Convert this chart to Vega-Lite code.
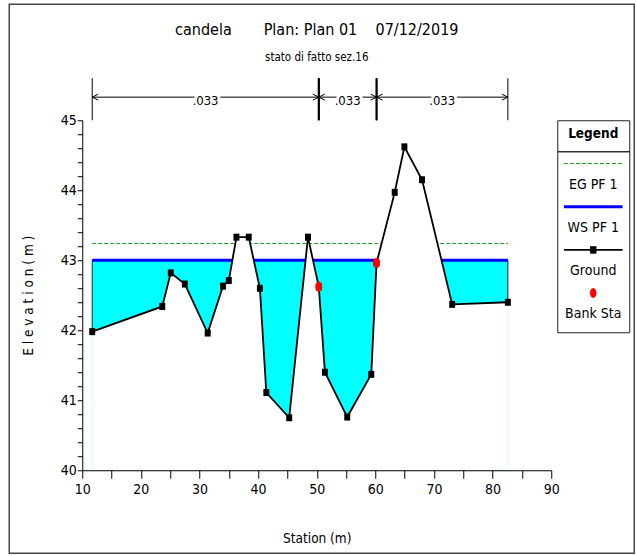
{
  "$schema": "https://vega.github.io/schema/vega-lite/v6.json",
  "description": "HEC-RAS cross section: candela, Plan 01, stato di fatto sez.16",
  "background": "white",
  "padding": {"left": 8.25, "top": 3.25, "right": 2.25, "bottom": 2.25},
  "autosize": {"type": "pad"},
  "bounds": "flush",
  "spacing": 6,
  "config": {
    "font": "DejaVu Sans Condensed, Liberation Sans, sans-serif",
    "mark": {"font": "DejaVu Sans Condensed, Liberation Sans, sans-serif"},
    "view": {"stroke": null},
    "axis": {
      "grid": false,
      "domain": true,
      "ticks": true,
      "domainColor": "black",
      "tickColor": "black",
      "labelColor": "black",
      "titleColor": "black",
      "titleFontWeight": "normal",
      "labelFontSize": 14,
      "titleFontSize": 13.5
    },
    "axisX": {"domain": true, "ticks": true, "domainColor": "black", "tickColor": "black"},
    "axisY": {"domain": true, "ticks": true, "domainColor": "black", "tickColor": "black"},
    "axisQuantitative": {"domain": true, "ticks": true, "domainColor": "black", "tickColor": "black"}
  },
  "datasets": {
    "ground": [
      {"station": 11.7, "elevation": 41.98},
      {"station": 23.65, "elevation": 42.34},
      {"station": 25.1, "elevation": 42.82},
      {"station": 27.5, "elevation": 42.66},
      {"station": 31.4, "elevation": 41.96},
      {"station": 34.0, "elevation": 42.63},
      {"station": 35.0, "elevation": 42.71},
      {"station": 36.3, "elevation": 43.33},
      {"station": 38.4, "elevation": 43.33},
      {"station": 40.3, "elevation": 42.6},
      {"station": 41.4, "elevation": 41.11},
      {"station": 45.3, "elevation": 40.75},
      {"station": 48.5, "elevation": 43.33},
      {"station": 50.35, "elevation": 42.62},
      {"station": 51.4, "elevation": 41.4},
      {"station": 55.2, "elevation": 40.76},
      {"station": 59.3, "elevation": 41.37},
      {"station": 60.2, "elevation": 42.96},
      {"station": 63.3, "elevation": 43.97},
      {"station": 64.95, "elevation": 44.62},
      {"station": 67.96, "elevation": 44.15},
      {"station": 73.1, "elevation": 42.37},
      {"station": 82.6, "elevation": 42.4}
    ],
    "banks": [
      {"bank": "left", "station": 50.35, "elevation": 42.62},
      {"bank": "right", "station": 60.2, "elevation": 42.96}
    ],
    "profile": [
      {"station": 11.7, "ws": 43.0, "eg": 43.24, "bed": 41.98},
      {"station": 82.6, "ws": 43.0, "eg": 43.24, "bed": 42.4}
    ],
    "manning": [
      {"zone": "LOB", "from": 11.7, "to": 50.35, "n": ".033"},
      {"zone": "Channel", "from": 50.35, "to": 60.2, "n": ".033"},
      {"zone": "ROB", "from": 60.2, "to": 82.6, "n": ".033"}
    ],
    "legendEntries": [
      {"entry": "EG PF 1"},
      {"entry": "WS PF 1"},
      {"entry": "Ground"},
      {"entry": "Bank Sta"}
    ]
  },
  "hconcat": [
    {
      "width": 469,
      "height": 350,
      "view": {"stroke": null},
      "title": {
        "text": "candela\u00a0\u00a0\u00a0\u00a0\u00a0\u00a0\u00a0Plan: Plan 01\u00a0\u00a0\u00a0\u00a007/12/2019",
        "subtitle": "stato di fatto sez.16",
        "anchor": "middle",
        "frame": "group",
        "fontSize": 16,
        "fontWeight": "normal",
        "color": "black",
        "subtitleFontSize": 11.5,
        "subtitleColor": "black",
        "subtitlePadding": 14,
        "offset": -60
      },
      "layer": [
        {
          "data": {"name": "profile"},
          "mark": {"type": "area", "fill": "#00ffff"},
          "encoding": {
            "x": {"field": "station", "type": "quantitative"},
            "y": {"field": "ws", "type": "quantitative"},
            "y2": {"datum": 40}
          }
        },
        {
          "data": {"name": "profile"},
          "mark": {"type": "rule", "color": "#222", "strokeWidth": 1},
          "encoding": {
            "x": {"field": "station", "type": "quantitative"},
            "y": {"field": "ws", "type": "quantitative"},
            "y2": {"field": "bed"}
          }
        },
        {
          "data": {"name": "profile"},
          "mark": {"type": "line", "stroke": "#0000ff", "strokeWidth": 3},
          "encoding": {
            "x": {"field": "station", "type": "quantitative"},
            "y": {"field": "ws", "type": "quantitative"}
          }
        },
        {
          "data": {"name": "profile"},
          "mark": {"type": "line", "stroke": "#1a9a1a", "strokeWidth": 1, "strokeDash": [4, 2]},
          "encoding": {
            "x": {"field": "station", "type": "quantitative"},
            "y": {"field": "eg", "type": "quantitative"}
          }
        },
        {
          "data": {"name": "ground"},
          "mark": {"type": "area", "fill": "white"},
          "encoding": {
            "x": {"field": "station", "type": "quantitative"},
            "y": {"field": "elevation", "type": "quantitative"},
            "y2": {"datum": 40}
          }
        },
        {
          "data": {"name": "ground"},
          "mark": {"type": "line", "stroke": "black", "strokeWidth": 1.8},
          "encoding": {
            "x": {
              "field": "station",
              "type": "quantitative",
              "scale": {"domain": [10, 90], "nice": false, "zero": false},
              "axis": {
                "title": "Station (m)",
                "values": [10, 15, 20, 25, 30, 35, 40, 45, 50, 55, 60, 65, 70, 75, 80, 85, 90],
                "tickCount": 100,
                "labelExpr": "datum.value % 10 === 0 ? format(datum.value, 'd') : ''",
                "labelFlush": false,
                "labelOverlap": false,
                "domain": true,
                "ticks": true,
                "domainColor": "black",
                "tickColor": "black",
                "tickSize": 8,
                "labelPadding": 4,
                "titlePadding": 35,
                "zindex": 1,
                "encode": {
                  "domain": {"update": {"stroke": {"value": "black"}, "strokeOpacity": {"value": 1}, "strokeWidth": {"value": 1}}},
                  "ticks": {"update": {"stroke": {"value": "black"}, "strokeOpacity": {"value": 1}, "strokeWidth": {"value": 1}, "y2": {"signal": "datum.value % 10 === 0 ? 8 : 6"}}},
                  "labels": {"update": {"fontSize": {"signal": "datum.value % 10 === 0 ? 14 : 0"}}}
                }
              }
            },
            "y": {
              "field": "elevation",
              "type": "quantitative",
              "scale": {"domain": [40, 45], "nice": false, "zero": false},
              "axis": {
                "title": "E l e v a t i o n   ( m )",
                "values": [40, 40.2, 40.4, 40.6, 40.8, 41, 41.2, 41.4, 41.6, 41.8, 42, 42.2, 42.4, 42.6, 42.8, 43, 43.2, 43.4, 43.6, 43.8, 44, 44.2, 44.4, 44.6, 44.8, 45],
                "tickCount": 100,
                "labelExpr": "abs(datum.value - round(datum.value)) < 0.001 ? format(datum.value, 'd') : ''",
                "labelOverlap": false,
                "domain": true,
                "ticks": true,
                "domainColor": "black",
                "tickColor": "black",
                "tickSize": 5,
                "labelPadding": 1,
                "titlePadding": 25,
                "zindex": 1,
                "encode": {
                  "domain": {"update": {"stroke": {"value": "black"}, "strokeOpacity": {"value": 1}, "strokeWidth": {"value": 1}}},
                  "ticks": {"update": {"stroke": {"value": "black"}, "strokeOpacity": {"value": 1}, "strokeWidth": {"value": 1}, "x2": {"signal": "abs(datum.value - round(datum.value)) < 0.001 ? -5 : -2"}}},
                  "labels": {"update": {"fontSize": {"signal": "abs(datum.value - round(datum.value)) < 0.001 ? 14 : 0"}}}
                }
              }
            }
          }
        },
        {
          "data": {"name": "ground"},
          "mark": {"type": "point", "filled": true, "color": "black", "opacity": 1, "shape": "M-0.85,-1H0.85V1H-0.85Z", "size": 49},
          "encoding": {
            "x": {"field": "station", "type": "quantitative"},
            "y": {"field": "elevation", "type": "quantitative"}
          }
        },
        {
          "data": {"name": "banks"},
          "mark": {"type": "point", "filled": true, "color": "#ff0000", "opacity": 1, "shape": "M0,-1A0.65,1 0 1,1 0,1A0.65,1 0 1,1 0,-1Z", "size": 110},
          "encoding": {
            "x": {"field": "station", "type": "quantitative"},
            "y": {"field": "elevation", "type": "quantitative"}
          }
        },
        {
          "data": {"name": "manning"},
          "transform": [{"fold": ["from", "to"], "as": ["end", "station"]}],
          "mark": {"type": "rule", "color": "black", "strokeWidth": 1},
          "encoding": {
            "x": {"field": "station", "type": "quantitative"},
            "y": {"datum": 45, "type": "quantitative"},
            "y2": {"datum": 45.6}
          }
        },
        {
          "data": {"name": "banks"},
          "mark": {"type": "rule", "color": "black", "strokeWidth": 2.2},
          "encoding": {
            "x": {"field": "station", "type": "quantitative"},
            "y": {"datum": 45, "type": "quantitative"},
            "y2": {"datum": 45.6}
          }
        },
        {
          "data": {"name": "manning"},
          "mark": {"type": "rule", "color": "black", "strokeWidth": 1},
          "encoding": {
            "x": {"field": "from", "type": "quantitative"},
            "x2": {"field": "to"},
            "y": {"datum": 45.33, "type": "quantitative"}
          }
        },
        {
          "data": {"name": "manning"},
          "mark": {"type": "point", "filled": false, "color": "black", "opacity": 1, "strokeWidth": 1, "shape": "M2,-1L0,0L2,1", "size": 36},
          "encoding": {
            "x": {"field": "from", "type": "quantitative"},
            "y": {"datum": 45.33, "type": "quantitative"}
          }
        },
        {
          "data": {"name": "manning"},
          "mark": {"type": "point", "filled": false, "color": "black", "opacity": 1, "strokeWidth": 1, "shape": "M-2,-1L0,0L-2,1", "size": 36},
          "encoding": {
            "x": {"field": "to", "type": "quantitative"},
            "y": {"datum": 45.33, "type": "quantitative"}
          }
        },
        {
          "data": {"name": "manning"},
          "transform": [
            {"fold": ["from", "to"], "as": ["end", "station"]},
            {"aggregate": [{"op": "mean", "field": "station", "as": "mid"}], "groupby": ["zone", "n"]}
          ],
          "layer": [
            {
              "mark": {"type": "text", "fontSize": 13, "baseline": "middle", "dy": 4, "fill": "white", "stroke": "white", "strokeWidth": 6},
              "encoding": {
                "x": {"field": "mid", "type": "quantitative"},
                "y": {"datum": 45.33, "type": "quantitative"},
                "text": {"field": "n"}
              }
            },
            {
              "mark": {"type": "text", "fontSize": 13, "baseline": "middle", "dy": 4, "color": "black"},
              "encoding": {
                "x": {"field": "mid", "type": "quantitative"},
                "y": {"datum": 45.33, "type": "quantitative"},
                "text": {"field": "n"}
              }
            }
          ]
        },
        {
          "data": {"values": [{"part": "frame"}]},
          "mark": {"type": "rect", "fill": null, "fillOpacity": 0, "stroke": "#444", "strokeWidth": 1.5},
          "encoding": {
            "x": {"datum": -2.452, "type": "quantitative"},
            "x2": {"datum": 104.158},
            "y": {"datum": 46.657, "type": "quantitative"},
            "y2": {"datum": 38.814}
          }
        }
      ]
    },
    {
      "vconcat": [
        {
          "width": 72,
          "height": 31,
          "view": {"stroke": "#222", "strokeWidth": 1},
          "data": {"values": [{"heading": "Legend"}]},
          "mark": {"type": "text", "fontSize": 13.5, "fontWeight": "bold", "baseline": "middle", "dy": -2, "color": "black"},
          "encoding": {"text": {"field": "heading"}}
        },
        {
          "width": 72,
          "height": 181,
          "view": {"stroke": "#222", "strokeWidth": 1},
          "data": {"name": "legendEntries"},
          "layer": [
            {
              "mark": {"type": "text", "fontSize": 14, "baseline": "middle", "color": "black"},
              "encoding": {
                "y": {
                  "field": "entry",
                  "type": "nominal",
                  "bandPosition": 0.74,
                  "scale": {"type": "band", "domain": ["EG PF 1", "WS PF 1", "Ground", "Bank Sta"], "paddingInner": 0, "paddingOuter": 0.095, "align": 0.18},
                  "axis": null
                },
                "text": {"field": "entry"}
              }
            },
            {
              "transform": [{"filter": "datum.entry === 'EG PF 1'"}],
              "mark": {"type": "point", "shape": "M-1,0H1", "size": 3446, "filled": false, "color": "#1a9a1a", "opacity": 1, "strokeWidth": 1, "strokeDash": [4, 2]},
              "encoding": {"y": {"field": "entry", "type": "nominal", "bandPosition": 0.25}}
            },
            {
              "transform": [{"filter": "datum.entry === 'WS PF 1'"}],
              "mark": {"type": "point", "shape": "M-1,0H1", "size": 3446, "filled": false, "color": "#0000ff", "opacity": 1, "strokeWidth": 3},
              "encoding": {"y": {"field": "entry", "type": "nominal", "bandPosition": 0.25}}
            },
            {
              "transform": [{"filter": "datum.entry === 'Ground'"}],
              "mark": {"type": "point", "shape": "M-1,0H1", "size": 3446, "filled": false, "color": "black", "opacity": 1, "strokeWidth": 1.8},
              "encoding": {"y": {"field": "entry", "type": "nominal", "bandPosition": 0.25}}
            },
            {
              "transform": [{"filter": "datum.entry === 'Ground'"}],
              "mark": {"type": "point", "shape": "M-0.85,-1H0.85V1H-0.85Z", "size": 56, "filled": true, "color": "black", "opacity": 1},
              "encoding": {"y": {"field": "entry", "type": "nominal", "bandPosition": 0.25}}
            },
            {
              "transform": [{"filter": "datum.entry === 'Bank Sta'"}],
              "mark": {"type": "point", "shape": "M0,-1A0.65,1 0 1,1 0,1A0.65,1 0 1,1 0,-1Z", "size": 100, "filled": true, "color": "#ff0000", "opacity": 1},
              "encoding": {"y": {"field": "entry", "type": "nominal", "bandPosition": 0.25}}
            }
          ]
        }
      ],
      "spacing": 0,
      "bounds": "flush"
    }
  ]
}
